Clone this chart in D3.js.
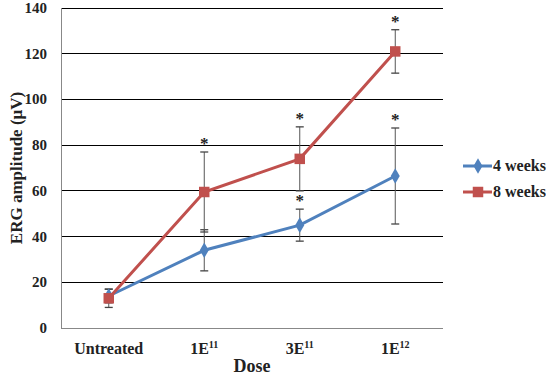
<!DOCTYPE html>
<html><head><meta charset="utf-8">
<script src="https://cdn.jsdelivr.net/npm/d3@7/dist/d3.min.js"></script>
<style>body{margin:0;background:#fff}svg{display:block}text{font-family:"Liberation Serif","Times New Roman",serif;font-weight:bold;fill:#222}</style>
</head><body><svg id="c" width="546" height="376"></svg>
<script>
const categories = ["Untreated", "1E11", "3E11", "1E12"];
const catBase = ["Untreated", "1E", "3E", "1E"];
const catSup = ["", "11", "11", "12"];
const yTicks = [0, 20, 40, 60, 80, 100, 120, 140];
const series = ["4 weeks", "8 weeks"];
const weeks4 = [14, 34, 45, 66.5];
const weeks4Err = [3, 9, 7, 21];
const weeks8 = [13, 59.5, 74, 121];
const weeks8Err = [4, 17.5, 14, 9.5];
const stars4 = [false, false, true, true];
const stars8 = [false, true, true, true];
const colors = ["#4F81BD", "#C0504D"];

const svg = d3.select("#c");
const L = 61, R = 443, T = 8, B = 328;
const x = d3.scalePoint().domain(categories).range([L, R]).padding(0.5);
const y = d3.scaleLinear().domain([0, 140]).range([B, T]);

svg.append("g").selectAll("line").data(yTicks.filter(d => d > 0)).join("line")
  .attr("x1", L).attr("x2", R).attr("y1", d => y(d)).attr("y2", d => y(d))
  .attr("stroke", "#000").attr("stroke-width", 1).attr("shape-rendering", "crispEdges");
svg.append("line").attr("x1", L).attr("x2", L).attr("y1", T).attr("y2", B).attr("stroke", "#888").attr("shape-rendering", "crispEdges");
svg.append("line").attr("x1", L).attr("x2", R).attr("y1", B).attr("y2", B).attr("stroke", "#888").attr("shape-rendering", "crispEdges");

svg.append("g").selectAll("text").data(yTicks).join("text")
  .attr("x", 47).attr("y", d => y(d) + 5).attr("text-anchor", "end")
  .attr("font-size", 15).text(d => d);

const xt = svg.append("g").selectAll("text").data(categories).join("text")
  .attr("x", d => x(d)).attr("y", 354).attr("text-anchor", "middle").attr("font-size", 16);
xt.append("tspan").text((d, i) => catBase[i]);
xt.append("tspan").attr("font-size", 10).attr("dy", -6).text((d, i) => catSup[i]);

svg.append("text").attr("x", 252).attr("y", 372).attr("text-anchor", "middle").attr("font-size", 18).text("Dose");
svg.append("text").attr("transform", `translate(22,168) rotate(-90)`).attr("text-anchor", "middle").attr("font-size", 17).text("ERG amplitude (μV)");

const data = [
  {vals: weeks4, err: weeks4Err, stars: stars4},
  {vals: weeks8, err: weeks8Err, stars: stars8}
];
const line = d3.line().x((d, i) => x(categories[i])).y(d => y(d));

data.forEach((s, si) => {
  const g = svg.append("g");
  s.vals.forEach((v, i) => {
    const cx = x(categories[i]);
    const hi = y(v + s.err[i]), lo = y(v - s.err[i]);
    g.append("line").attr("x1", cx).attr("x2", cx).attr("y1", hi).attr("y2", lo).attr("stroke", "#555").attr("stroke-width", 1);
    [hi, lo].forEach(yy => g.append("line").attr("x1", cx - 4).attr("x2", cx + 4).attr("y1", yy).attr("y2", yy).attr("stroke", "#444").attr("stroke-width", 1.3));
    if (s.stars[i]) {
      g.append("text").attr("x", cx).attr("y", hi - 3).attr("text-anchor", "middle").attr("font-size", 17).attr("font-weight", "normal").text("*");
    }
  });
});

data.forEach((s, si) => {
  svg.append("path").attr("d", line(s.vals)).attr("fill", "none").attr("stroke", colors[si]).attr("stroke-width", 3);
});
data.forEach((s, si) => {
  const sym = si === 0 ? d3.symbolDiamond : d3.symbolSquare;
  const size = si === 0 ? 70 : 110;
  svg.append("g").selectAll("path").data(s.vals).join("path")
    .attr("transform", (d, i) => `translate(${x(categories[i])},${y(d)})`)
    .attr("d", d3.symbol().type(sym).size(size)).attr("fill", colors[si]);
});

series.forEach((name, si) => {
  const ly = 166 + si * 26;
  svg.append("line").attr("x1", 463).attr("x2", 492).attr("y1", ly).attr("y2", ly).attr("stroke", colors[si]).attr("stroke-width", 3);
  svg.append("path").attr("transform", `translate(478,${ly})`)
    .attr("d", d3.symbol().type(si === 0 ? d3.symbolDiamond : d3.symbolSquare).size(si === 0 ? 70 : 110)).attr("fill", colors[si]);
  svg.append("text").attr("x", 493).attr("y", ly + 5).attr("font-size", 16).text(name);
});
</script></body></html>
